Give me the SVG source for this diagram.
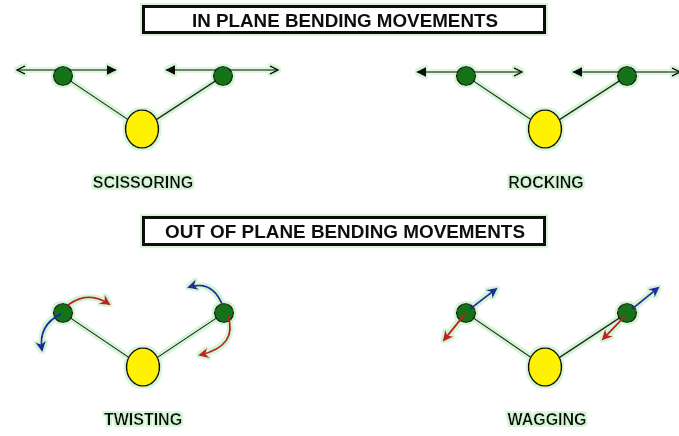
<svg xmlns="http://www.w3.org/2000/svg" width="679" height="436" viewBox="0 0 679 436">
  <style>
    .title { font-family: "Liberation Sans", Arial, sans-serif; font-weight: bold; font-size: 18.5px; fill: #111; }
    .label { font-family: "Liberation Sans", Arial, sans-serif; font-weight: bold; font-size: 16px; fill: #111; text-anchor: middle; }
    .box { fill: #fff; stroke: #111; stroke-width: 3; }
    .bond { stroke: #222; stroke-width: 1.5; fill: none; }
    .h { fill: #167216; stroke: #111; stroke-width: 1.2; }
    .c { fill: #fff200; stroke: #111; stroke-width: 1.5; }
    .arr { stroke: #111; stroke-width: 1.6; fill: none; }
    .red { stroke: #b82222; stroke-width: 2; fill: none; }
    .blue { stroke: #1a2f9a; stroke-width: 2; fill: none; }
  </style>
  <defs>
    <marker id="aFill" viewBox="0 0 10 10" refX="9" refY="5" markerWidth="11" markerHeight="10" markerUnits="userSpaceOnUse" orient="auto-start-reverse">
      <path d="M0,0 L10,5 L0,10 Z" fill="#111"/>
    </marker>
    <marker id="aOpen" viewBox="0 0 10 10" refX="9" refY="5" markerWidth="10" markerHeight="10" markerUnits="userSpaceOnUse" orient="auto-start-reverse">
      <path d="M1,1 L9,5 L1,9" fill="none" stroke="#111" stroke-width="1.6"/>
    </marker>
    <marker id="aRed" viewBox="0 0 10 10" refX="8" refY="5" markerWidth="11" markerHeight="11" markerUnits="userSpaceOnUse" orient="auto">
      <path d="M0,0 L10,5 L0,10 L3,5 Z" fill="#c02222"/>
    </marker>
    <marker id="aBlue" viewBox="0 0 10 10" refX="8" refY="5" markerWidth="11" markerHeight="11" markerUnits="userSpaceOnUse" orient="auto">
      <path d="M0,0 L10,5 L0,10 L3,5 Z" fill="#1a2f9a"/>
    </marker>
    <filter id="halo" x="-5%" y="-5%" width="110%" height="110%">
      <feMorphology in="SourceAlpha" operator="dilate" radius="2" result="d"/>
      <feFlood flood-color="#d6f5d6"/>
      <feComposite in2="d" operator="in" result="g"/>
      <feMerge>
        <feMergeNode in="g"/>
        <feMergeNode in="SourceGraphic"/>
      </feMerge>
    </filter>
  </defs>
  <rect width="679" height="436" fill="#fff"/>
  <g filter="url(#halo)">
    <g id="title-in-plane">
      <rect class="box" x="143.5" y="6.5" width="401" height="26"/>
      <text class="title" x="192" y="27" textLength="306" lengthAdjust="spacingAndGlyphs">IN PLANE BENDING MOVEMENTS</text>
    </g>
    <g id="title-out-of-plane">
      <rect class="box" x="143.5" y="217.5" width="401" height="27"/>
      <text class="title" x="165" y="237.5" textLength="360" lengthAdjust="spacingAndGlyphs">OUT OF PLANE BENDING MOVEMENTS</text>
    </g>

    <g id="connectors">
      <line class="bond" x1="63" y1="76" x2="142" y2="129"/>
      <line class="bond" x1="223" y1="76" x2="142" y2="129"/>
      <line class="bond" x1="466" y1="76" x2="545" y2="129"/>
      <line class="bond" x1="627" y1="76" x2="545" y2="129"/>
      <line class="bond" x1="63" y1="313" x2="143" y2="367"/>
      <line class="bond" x1="224" y1="313" x2="143" y2="367"/>
      <line class="bond" x1="466" y1="313" x2="545" y2="367"/>
      <line class="bond" x1="627" y1="313" x2="545" y2="367"/>
      <line class="arr" x1="17" y1="70" x2="116" y2="70" marker-start="url(#aOpen)" marker-end="url(#aFill)"/>
      <line class="arr" x1="166" y1="70" x2="278" y2="70" marker-start="url(#aFill)" marker-end="url(#aOpen)"/>
      <line class="arr" x1="417" y1="72" x2="522" y2="72" marker-start="url(#aFill)" marker-end="url(#aOpen)"/>
      <line class="arr" x1="573" y1="72" x2="680" y2="72" marker-start="url(#aFill)" marker-end="url(#aOpen)"/>
    </g>

    <g id="scissoring">
      <circle class="h" cx="63" cy="76" r="9.5"/>
      <circle class="h" cx="223" cy="76" r="9.5"/>
      <ellipse class="c" cx="142" cy="129" rx="16.5" ry="19"/>
      <text class="label" x="143" y="188">SCISSORING</text>
    </g>
    <g id="rocking">
      <circle class="h" cx="466" cy="76" r="9.5"/>
      <circle class="h" cx="627" cy="76" r="9.5"/>
      <ellipse class="c" cx="545" cy="129" rx="16.5" ry="19"/>
      <text class="label" x="546" y="188">ROCKING</text>
    </g>
    <g id="twisting">
      <circle class="h" cx="63" cy="313" r="9.5"/>
      <circle class="h" cx="224" cy="313" r="9.5"/>
      <ellipse class="c" cx="143" cy="367" rx="16.5" ry="19"/>
      <text class="label" x="143" y="425">TWISTING</text>
    </g>
    <g id="wagging">
      <circle class="h" cx="466" cy="313" r="9.5"/>
      <circle class="h" cx="627" cy="313" r="9.5"/>
      <ellipse class="c" cx="545" cy="367" rx="16.5" ry="19"/>
      <text class="label" x="547" y="425">WAGGING</text>
    </g>

    <g id="motion-arrows">
      <path class="red" d="M68,305 Q88,290 109,304" marker-end="url(#aRed)"/>
      <path class="blue" d="M61,314 Q38,325 42,350" marker-end="url(#aBlue)"/>
      <path class="blue" d="M222,304 Q212,280 189,287" marker-end="url(#aBlue)"/>
      <path class="red" d="M228,316 Q238,346 200,355" marker-end="url(#aRed)"/>
      <line class="blue" x1="470" y1="309" x2="496" y2="289" marker-end="url(#aBlue)"/>
      <line class="red" x1="465" y1="314" x2="444" y2="340" marker-end="url(#aRed)"/>
      <line class="blue" x1="632" y1="309" x2="658" y2="288" marker-end="url(#aBlue)"/>
      <line class="red" x1="626" y1="315" x2="603" y2="339" marker-end="url(#aRed)"/>
    </g>
  </g>
</svg>
